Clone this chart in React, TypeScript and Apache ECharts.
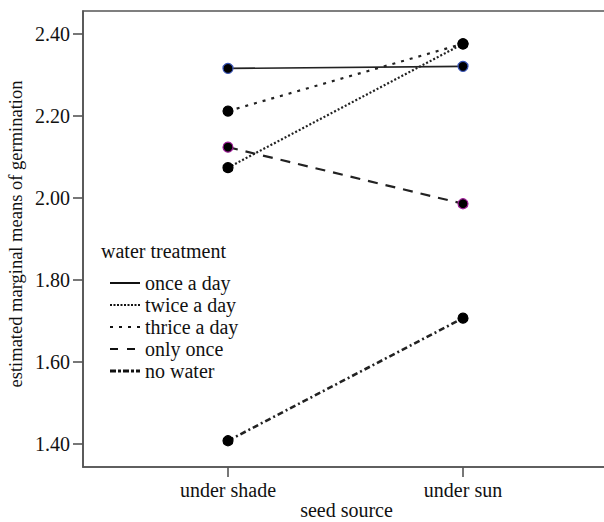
import React, { useEffect, useRef } from "react";
import * as echarts from "echarts";

const categories = ["under shade", "under sun"];
const seriesNames = ["once a day", "twice a day", "thrice a day", "only once", "no water"];
const onceADay = [2.316, 2.321];
const twiceADay = [2.074, 2.376];
const thriceADay = [2.212, 2.376];
const onlyOnce = [2.124, 1.986];
const noWater = [1.408, 1.707];
const yTicks = [1.4, 1.6, 1.8, 2.0, 2.2, 2.4];

const FONT = "Liberation Serif";
const FS = 20;
const LINE = "#222222";
const AXIS = "#555555";

const styles: any[] = [
  { type: "solid", width: 1.6, dash: null, border: "#3a55b8" },
  { type: [2, 2], width: 2.2, dash: [2, 1.5], border: "#000" },
  { type: [3, 6], width: 2.2, dash: [3, 6], border: "#000" },
  { type: [10, 8], width: 2.2, dash: [8, 9], border: "#a0209a" },
  { type: [6, 3, 2, 3], width: 2.6, dash: [6, 2, 3, 2], border: "#000" },
];

export default function App() {
  const ref = useRef<HTMLDivElement>(null);
  useEffect(() => {
    if (!ref.current) return;
    const chart = echarts.init(ref.current, null, { renderer: "svg" });
    const values = [onceADay, twiceADay, thriceADay, onlyOnce, noWater];
    const series = values.map((vals, i) => ({
      type: "line",
      name: seriesNames[i],
      data: vals.map((v, j) => [j + 1, v]),
      symbol: "circle",
      symbolSize: 10,
      itemStyle: { color: "#000", borderColor: styles[i].border, borderWidth: 1.2 },
      lineStyle: { color: LINE, width: styles[i].width, type: styles[i].type },
      z: 2 + i,
    }));

    const legendX = 110;
    const legendY0 = 283;
    const legendStep = 22;
    const legendGraphics: any[] = [
      {
        type: "text",
        x: 101,
        y: 251,
        style: {
          text: "water treatment",
          font: `${FS}px "${FONT}"`,
          fill: "#111",
          verticalAlign: "middle",
        },
      },
    ];
    seriesNames.forEach((n, i) => {
      const y = legendY0 + i * legendStep;
      legendGraphics.push({
        type: "line",
        shape: { x1: legendX, y1: y, x2: legendX + 30, y2: y },
        style: {
          stroke: "#111",
          lineWidth: i === 4 ? 3 : 2,
          lineDash: styles[i].dash,
        },
      });
      legendGraphics.push({
        type: "text",
        x: legendX + 35,
        y: y,
        style: {
          text: n,
          font: `${FS}px "${FONT}"`,
          fill: "#111",
          verticalAlign: "middle",
        },
      });
    });

    const xMin = 0.383;
    const xMax = 0.383 + 527 / 235;

    chart.setOption({
      animation: false,
      backgroundColor: "#fff",
      grid: {
        left: 83,
        right: -6,
        top: 11,
        bottom: 55,
        containLabel: false,
        outerBoundsMode: "none",
        show: true,
        borderColor: AXIS,
        borderWidth: 1.6,
        backgroundColor: "transparent",
      },
      xAxis: {
        type: "value",
        min: xMin,
        max: xMax,
        name: "seed source",
        nameLocation: "middle",
        nameGap: 33,
        nameMoveOverlap: false,
        nameTextStyle: { fontFamily: FONT, fontSize: FS, color: "#111" },
        axisLine: { show: true, lineStyle: { color: AXIS, width: 1.6 } },
        axisTick: { show: true, length: 10, customValues: [1, 2], lineStyle: { color: AXIS, width: 1.6 } },
        axisLabel: {
          customValues: [1, 2],
          margin: 13,
          fontFamily: FONT,
          fontSize: FS,
          color: "#111",
          formatter: (v: number) => categories[Math.round(v) - 1] ?? "",
        },
        splitLine: { show: false },
      },
      yAxis: {
        type: "value",
        min: 1.344,
        max: 2.456,
        name: "estimated marginal means of germination",
        nameLocation: "middle",
        nameGap: 58,
        nameMoveOverlap: false,
        nameTextStyle: { fontFamily: FONT, fontSize: 18.5, color: "#111", padding: [0, 0, 0, 10] },
        axisLine: { show: true, lineStyle: { color: AXIS, width: 1.6 } },
        axisTick: { show: true, length: 10, customValues: yTicks, lineStyle: { color: AXIS, width: 1.6 } },
        axisLabel: {
          customValues: yTicks,
          margin: 13,
          fontFamily: FONT,
          fontSize: FS,
          color: "#111",
          formatter: (v: number) => v.toFixed(2),
        },
        splitLine: { show: false },
      },
      series,
      graphic: legendGraphics,
    });
    return () => chart.dispose();
  }, []);
  return (
    <div
      ref={ref}
      style={{ position: "absolute", left: 0, top: 0, width: 604, height: 522, background: "#fff" }}
    />
  );
}
